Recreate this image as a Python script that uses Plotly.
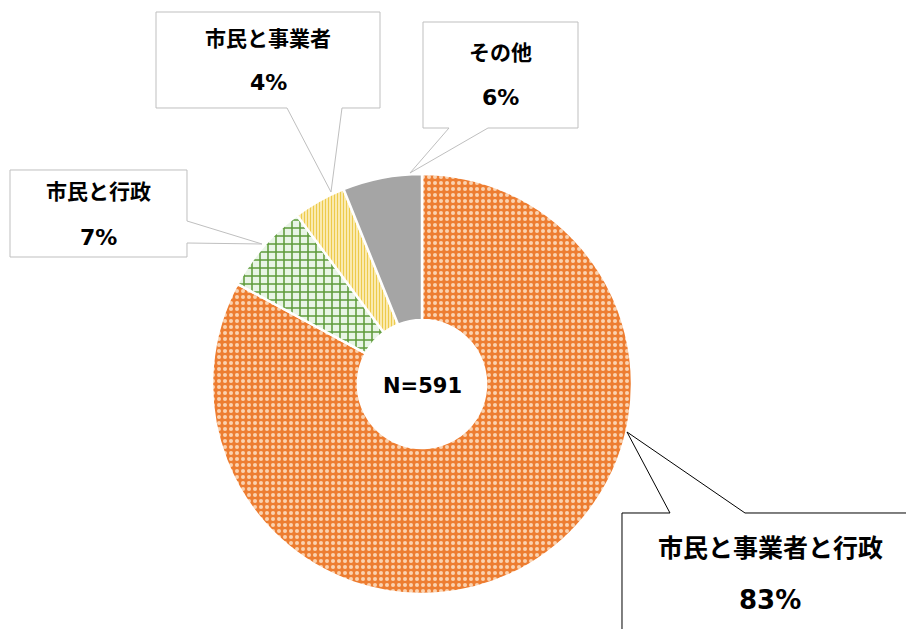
import plotly.graph_objects as go

# ---- data ----
categories = ["市民と事業者と行政", "市民と行政", "市民と事業者", "その他"]
counts = [490, 41, 24, 36]
total_label = "N=591"

# ---- styles ----
W, H = 906, 629
FONT = "DejaVu Sans, Noto Sans CJK JP"

def px(x):
    return x / W

def py(y):
    return 1 - y / H

total = sum(counts)
pcts = [round(v / total * 100) for v in counts]

cx, cy, r = 422, 384, 210

fig = go.Figure(go.Pie(
    labels=categories,
    values=counts,
    sort=False,
    direction="clockwise",
    rotation=0,
    hole=0.305,
    textinfo="none",
    hoverinfo="label+percent",
    domain=dict(x=[px(cx - r), px(cx + r)], y=[py(cy + r), py(cy - r)]),
    marker=dict(
        colors=["#ED7D31", "#E6F3E0", "#FFF2CC", "#A5A5A5"],
        line=dict(color="white", width=2.5),
        pattern=dict(
            shape=[".", "+", "|", ""],
            fgcolor=["#FAD2B0", "#5E9B3A", "#EDCB4C", "#A5A5A5"],
            bgcolor=["#ED7D31", "#E9F5E6", "#FFF5D0", "#A5A5A5"],
            size=[6, 8, 3, 8],
            solidity=[0.35, 0.35, 0.5, 0.3],
            fillmode="replace",
        ),
    ),
    showlegend=False,
))

# callout geometry (pixels): outline points, line colour, text center x, label y, pct y, label size, pct size
callouts = [
    (0, [(622, 513), (670, 513), (627, 432), (745, 513), (930, 513), (930, 650), (622, 650)],
     "#000000", 770, 548, 600, 25, 26),
    (1, [(10, 170), (187, 170), (187, 221), (262, 244), (187, 243), (187, 257), (10, 257)],
     "#BFBFBF", 98, 192, 237, 21, 22),
    (2, [(156, 12), (380, 12), (380, 108), (342, 108), (331, 192), (287, 108), (156, 108)],
     "#BFBFBF", 268, 39, 82, 21, 22),
    (3, [(423, 22), (578, 22), (578, 128), (488, 128), (410, 173), (449, 128), (423, 128)],
     "#BFBFBF", 500, 53, 97, 21, 22),
]

shapes = []
annotations = []
for idx, pts, lc, tx, ly, pyy, fs, fs2 in callouts:
    path = "M " + " L ".join(f"{px(x):.5f},{py(y):.5f}" for x, y in pts) + " Z"
    shapes.append(dict(type="path", xref="paper", yref="paper", path=path,
                       fillcolor="white", line=dict(color=lc, width=1), layer="above"))
    annotations.append(dict(x=px(tx), y=py(ly), xref="paper", yref="paper",
                            text=f"<b>{categories[idx]}</b>", showarrow=False,
                            xanchor="center", yanchor="middle",
                            font=dict(family=FONT, size=fs, color="#000000")))
    annotations.append(dict(x=px(tx), y=py(pyy), xref="paper", yref="paper",
                            text=f"<b>{pcts[idx]}%</b>", showarrow=False,
                            xanchor="center", yanchor="middle",
                            font=dict(family=FONT, size=fs2, color="#000000")))

annotations.append(dict(x=px(cx), y=py(cy + 2), xref="paper", yref="paper",
                        text=f"<b>{total_label}</b>", showarrow=False,
                        xanchor="center", yanchor="middle",
                        font=dict(family=FONT, size=21, color="#000000")))

fig.update_layout(
    width=W, height=H,
    margin=dict(l=0, r=0, t=0, b=0),
    paper_bgcolor="white",
    plot_bgcolor="white",
    shapes=shapes,
    annotations=annotations,
)

fig.write_html("out.html", config={"displayModeBar": False},
               post_script="document.body.style.margin='0';")
